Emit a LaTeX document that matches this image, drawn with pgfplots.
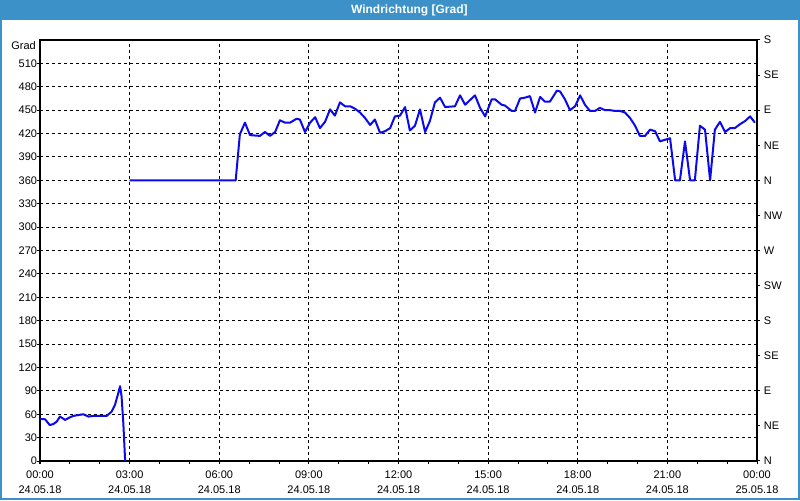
\documentclass[border=0pt]{standalone}
\usepackage{pgfplots}
\pgfplotsset{compat=1.18}
\usepackage{fontspec}
\setmainfont{Liberation Sans}
\definecolor{titleblue}{RGB}{60,145,200}
\definecolor{lineblue}{RGB}{10,10,235}
\begin{document}
\fontsize{8.25}{11.25}\selectfont
\begin{tikzpicture}
\fill[white] (0,0) rectangle (600pt,375pt);
\fill[titleblue] (0,360pt) rectangle (600pt,375pt);
\draw[titleblue, line width=1.5pt] (0.75pt,0.75pt) rectangle (599.25pt,374.25pt);
\node[white, font=\bfseries\fontsize{9}{10}\selectfont] at (307pt,367.5pt) {Windrichtung [Grad]};
\node[anchor=east, inner sep=0pt] at (27pt,341pt) {Grad};
\begin{axis}[
  at={(30pt,29.25pt)}, anchor=south west,
  width=537.75pt, height=315.75pt, scale only axis,
  xmin=0, xmax=24, ymin=0, ymax=540,
  xtick={0,3,...,24},
  minor x tick num=2,
  xticklabels={{00:00\\24.05.18},{03:00\\24.05.18},{06:00\\24.05.18},{09:00\\24.05.18},{12:00\\24.05.18},{15:00\\24.05.18},{18:00\\24.05.18},{21:00\\24.05.18},{00:00\\25.05.18}},
  xticklabel style={align=center, font=\fontsize{8.25}{10.8}\selectfont, yshift=-2.5pt},
  ytick={0,30,...,510},
  yticklabel style={font=\fontsize{8.25}{11.25}\selectfont, xshift=3pt},
  /pgf/number format/assume math mode=true,
  ytick pos=left, xtick pos=bottom,
  tick align=outside,
  major tick length=2.25pt, minor tick length=2.25pt,
  xmajorgrids, ymajorgrids,
  major grid style={black, line width=0.75pt, dash pattern=on 2.25pt off 2.25pt},
  axis line style={black, line width=0.9pt},
  tick style={black, line width=0.75pt},
  clip=true,
]
\addplot[lineblue, line width=1.5pt, line join=round] coordinates {
(0,54) (0.17,53.5) (0.33,46) (0.45,47.5) (0.56,50.5) (0.67,57) (0.84,52.7) (1.0,56) (1.11,57.8) (1.45,60) (1.62,57) (1.78,57.8) (2.23,57.8) (2.4,63.4) (2.51,72) (2.62,87) (2.68,96) (2.73,83) (2.79,48) (2.85,0)
};
\addplot[lineblue, line width=1.5pt, line join=round] coordinates {
(3.0,360) (6.55,360) (6.69,419) (6.86,434) (7.03,418) (7.36,417) (7.53,422) (7.70,417) (7.87,422) (8.03,437) (8.20,434) (8.37,434) (8.59,439) (8.70,438) (8.87,422) (9.04,434) (9.21,441) (9.37,427) (9.54,435) (9.71,451) (9.87,443) (10.04,460) (10.21,455) (10.38,455) (10.54,452) (10.71,447) (10.88,440) (11.05,431) (11.21,438) (11.38,421) (11.55,423) (11.72,427) (11.88,442) (12.05,443) (12.22,454) (12.38,424) (12.55,430) (12.72,451) (12.89,422) (13.05,436) (13.22,460) (13.39,466) (13.56,454) (13.89,455) (14.06,469) (14.23,457) (14.56,469) (14.73,453) (14.90,442) (15.12,464) (15.23,464) (15.45,457) (15.56,456) (15.79,449) (15.90,449) (16.07,465) (16.23,466) (16.40,468) (16.57,447) (16.74,467) (16.90,461) (17.07,461) (17.30,475) (17.41,474) (17.57,464) (17.74,450) (17.91,455) (18.08,469) (18.24,457) (18.41,449) (18.58,449) (18.74,453) (18.91,450) (19.08,450) (19.25,449) (19.41,449) (19.58,447) (19.75,440) (19.92,430) (20.08,417) (20.25,417) (20.42,425) (20.59,423) (20.75,410) (20.92,412) (21.09,414) (21.26,360) (21.42,360) (21.59,410) (21.76,360) (21.92,360) (22.09,430) (22.26,425) (22.43,360) (22.59,425) (22.76,435) (22.93,422) (23.10,427) (23.26,427) (23.43,432) (23.60,436) (23.77,442) (23.93,434)
};
\end{axis}
\begin{axis}[
  at={(30pt,29.25pt)}, anchor=south west,
  width=537.75pt, height=315.75pt, scale only axis,
  xmin=0, xmax=24, ymin=0, ymax=540,
  axis x line=none, axis y line*=right,
  ytick={0,45,...,540},
  yticklabels={N,NE,E,SE,S,SW,W,NW,N,NE,E,SE,S},
  yticklabel style={font=\fontsize{8.25}{11.25}\selectfont},
  tick align=outside, major tick length=2.25pt,
  axis line style={black, line width=0.9pt},
  tick style={black, line width=0.75pt},
]
\addplot[draw=none] coordinates {(0,0)};
\end{axis}
\end{tikzpicture}
\end{document}
